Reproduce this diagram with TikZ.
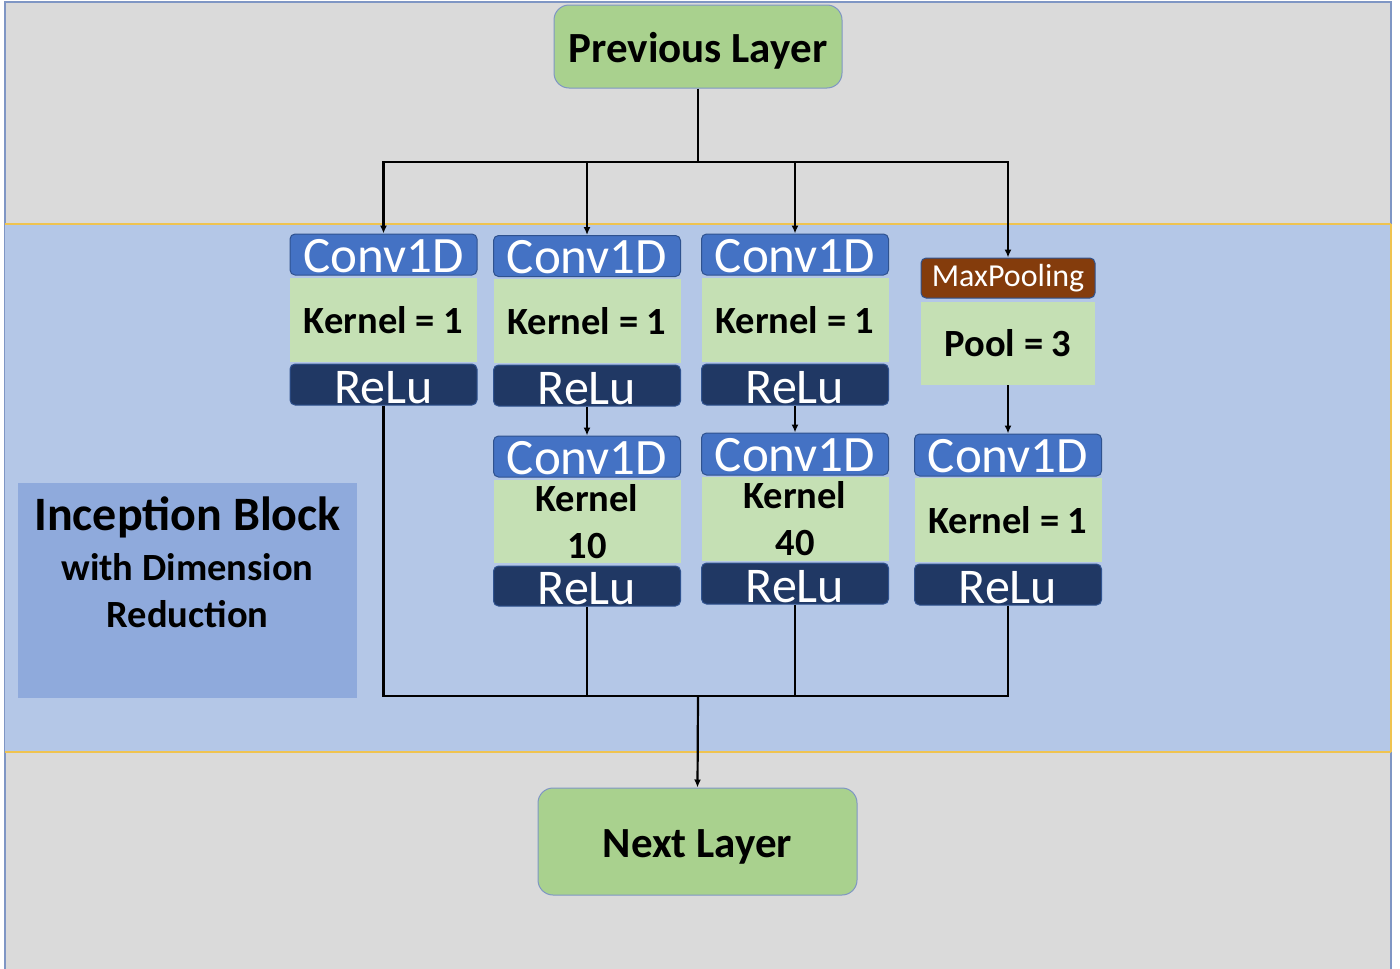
\documentclass[tikz,border=0pt]{standalone}
\usepackage{fontspec}
\setmainfont{Carlito}
\usetikzlibrary{arrows.meta}

\definecolor{panelgrey}{HTML}{DADADA}
\definecolor{paneledge}{HTML}{7F96C4}
\definecolor{bandblue}{HTML}{B4C7E7}
\definecolor{bandedge}{HTML}{EFC350}
\definecolor{tagblue}{HTML}{8FAADC}
\definecolor{convblue}{HTML}{4472C4}
\definecolor{reludark}{HTML}{203864}
\definecolor{pooldark}{HTML}{843C0C}
\definecolor{paramgreen}{HTML}{C5E0B4}
\definecolor{layergreen}{HTML}{A9D18E}
\definecolor{boxedge}{HTML}{2F528F}

\tikzset{
  hdr/.style={rounded corners=5pt, draw=boxedge, line width=1pt, inner sep=0pt,
    minimum width=187pt, minimum height=41pt, text=white},
  convbox/.style={hdr, fill=convblue, font=\fontsize{51}{55}\selectfont,
    text height=35pt, text depth=0pt},
  relubox/.style={hdr, fill=reludark, font=\fontsize{50}{54}\selectfont,
    text height=37pt, text depth=0pt},
  poolbox/.style={hdr, fill=pooldark, minimum width=174pt, minimum height=40pt,
    font=\fontsize{32}{36}\selectfont},
  parambox/.style={fill=paramgreen, inner sep=0pt, minimum width=187pt,
    minimum height=84pt, align=center, font=\fontsize{38.5}{47}\selectfont\bfseries},
  layerbox/.style={rounded corners=15pt, draw=paneledge, line width=1pt,
    fill=layergreen, inner sep=0pt, font=\fontsize{43}{47}\selectfont\bfseries,
    text height=32pt, text depth=0pt},
  wire/.style={line width=2.2pt, black},
  arr/.style={wire, -{Latex[length=8pt,width=7pt]}},
}

\begin{document}
\begin{tikzpicture}[x=1pt, y=-1pt]
\useasboundingbox (0,0) rectangle (1400,969);

% background panels
\fill[panelgrey] (5,2) rectangle (1391,969);
\draw[paneledge, line width=2pt] (5,969) -- (5,2) -- (1391,2) -- (1391,969);
\fill[bandblue] (5,224) rectangle (1391,752);
\draw[bandedge, line width=1.5pt] (5,224) -- (1391,224);
\draw[bandedge, line width=1.5pt] (5,752) -- (1391,752);
\draw[bandedge, line width=1.5pt] (1391,224) -- (1391,752);

% block tag
\node[fill=tagblue, minimum width=339pt, minimum height=215pt, inner sep=0pt] (tag) at (187.5,590.5) {};
\node[anchor=base, font=\fontsize{48}{52}\selectfont\bfseries] (tagA) at (187.5,530) {Inception Block};
\node[anchor=base, font=\fontsize{38.5}{42}\selectfont\bfseries] (tagB) at (187.5,580) {with Dimension};
\node[anchor=base, font=\fontsize{38.5}{42}\selectfont\bfseries] (tagC) at (187.5,627) {Reduction};

% input and output layers
\node[layerbox, minimum width=288pt, minimum height=83pt] (prev) at (698,46.5) {Previous Layer};
\node[layerbox, minimum width=319pt, minimum height=107pt] (next) at (697.5,841.5) {Next Layer};

% branch 1
\node[convbox] (c11) at (383.5,254.5) {Conv1D};
\node[parambox] (k11) at (383.5,320) {Kernel = 1};
\node[relubox] (r11) at (383.5,384.5) {ReLu};

% branch 2
\node[convbox] (c12) at (587,256) {Conv1D};
\node[parambox] (k12) at (587,321) {Kernel = 1};
\node[relubox] (r12) at (587,385.5) {ReLu};
\node[convbox] (c22) at (587,456.5) {Conv1D};
\node[parambox, minimum height=83pt] (k22) at (587,521.5) {Kernel\\10};
\node[relubox, minimum height=40pt] (r22) at (587,586) {ReLu};

% branch 3
\node[convbox] (c13) at (795,254.5) {Conv1D};
\node[parambox] (k13) at (795,320) {Kernel = 1};
\node[relubox] (r13) at (795,384.5) {ReLu};
\node[convbox, minimum height=42pt] (c23) at (795,454) {Conv1D};
\node[parambox] (k23) at (795,519) {Kernel\\40};
\node[relubox] (r23) at (795,583.5) {ReLu};

% branch 4
\node[poolbox] (p14) at (1008,278) {MaxPooling};
\node[parambox, minimum width=174pt, minimum height=83pt] (k14) at (1008,343.5) {Pool = 3};
\node[convbox, minimum height=42pt] (c24) at (1008,455) {Conv1D};
\node[parambox] (k24) at (1008,520) {Kernel = 1};
\node[relubox] (r24) at (1008,584.5) {ReLu};

% split bus
\coordinate (split) at (698,162);
\draw[wire] (prev.south) -- (split);
\draw[arr] (split) -| (c11.north);
\draw[arr] (split) -| (c12.north);
\draw[arr] (split) -| (c13.north);
\draw[arr] (split) -| (p14.north);

% inner links
\draw[arr] (r12.south) -- (c22.north);
\draw[arr] (r13.south) -- (c23.north);
\draw[arr] (k14.south) -- (c24.north);

% merge bus
\coordinate (merge) at (698,696);
\draw[wire] (r11.south) |- (merge);
\draw[wire] (r22.south) |- (merge);
\draw[wire] (r23.south) |- (merge);
\draw[wire] (r24.south) |- (merge);
\draw[arr] (merge) -- (next.north);
\end{tikzpicture}
\end{document}
